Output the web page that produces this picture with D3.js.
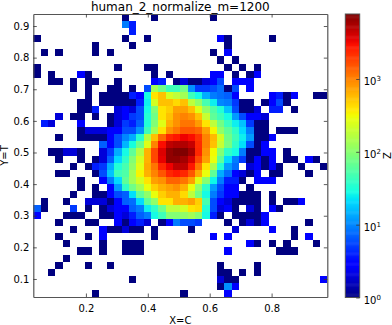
<!DOCTYPE html>
<html>
<head>
<meta charset="utf-8">
<script src="https://d3js.org/d3.v7.min.js"></script>
<style>
  html, body { margin: 0; padding: 0; background: #fff; }
  svg { display: block; }
  text { font-family: "DejaVu Sans", sans-serif; fill: #000; }
</style>
</head>
<body>
<div id="chart"></div>
<script>
var WIDTH = 392, HEIGHT = 325;

var titleText = 'human_2_normalize_m=1200';
var xLabel = 'X=C', yLabel = 'Y=T', zLabel = 'Z';

var xDomain = [0.03, 0.98];
var yDomain = [0.043, 0.938];
var zDomain = [1, 7800];

var xTicks = [0.2, 0.4, 0.6, 0.8];
var yTicks = [0.1, 0.2, 0.3, 0.4, 0.5, 0.6, 0.7, 0.8, 0.9];
var zTicks = [1, 10, 100, 1000];

//counts per bin, first row is the top of the plot (0 = empty bin, stays white)
var zRows = [
  [0,0,0,0,0,0,0,0,0,0, 0,0,1,0,0,0,1,0,0,0, 0,0,0,0,1,0,0,0,0,0, 0,0,0,0,0,0,0,0,0,0],
  [0,0,0,0,0,0,0,0,0,0, 0,0,9,4,0,0,0,0,0,0, 0,0,0,0,0,0,0,0,0,0, 0,0,0,0,0,0,0,0,0,0],
  [0,0,0,0,0,0,0,0,0,0, 0,0,0,4,0,0,0,0,0,0, 0,0,0,0,0,0,0,0,0,0, 0,0,0,0,0,0,0,0,0,0],
  [1,0,0,0,0,0,0,0,0,0, 0,0,1,0,0,1,0,0,0,0, 0,0,0,0,0,3,1,0,0,0, 0,0,1,0,0,0,0,0,0,0],
  [0,0,0,0,0,0,0,0,1,0, 0,0,0,1,0,0,0,0,0,0, 0,0,0,0,0,0,1,0,0,0, 0,0,0,0,0,0,0,0,0,0],
  [0,1,0,1,0,0,0,0,1,0, 1,0,0,0,0,0,0,0,0,0, 0,0,0,0,1,0,3,0,0,0, 0,0,0,0,0,0,0,0,0,0],
  [0,0,0,0,0,0,0,0,0,0, 0,0,0,0,0,0,0,0,0,0, 0,0,0,0,0,1,0,1,0,0, 0,0,0,0,0,0,0,0,0,0],
  [1,0,0,0,0,0,0,0,0,0, 0,1,0,0,0,1,1,0,0,0, 0,0,0,0,0,0,1,0,1,0, 1,0,0,0,0,0,0,0,0,0],
  [1,0,1,0,0,0,3,1,0,0, 0,0,0,0,0,0,1,0,1,0, 0,0,0,0,3,3,0,1,0,1, 3,0,0,0,0,0,0,0,0,0],
  [0,0,1,1,0,1,0,1,1,0, 0,1,0,0,0,0,3,4,0,1, 2,1,1,2,3,6,0,3,3,3, 0,0,0,0,0,0,0,0,0,0],
  [0,0,0,0,0,1,0,1,0,0, 1,1,0,1,0,6,135,78,45,45, 78,11,5,5,6,8,1,6,0,3, 0,0,0,0,0,0,0,0,0,0],
  [0,0,0,0,0,0,0,1,0,1, 1,1,1,4,3,28,400,560,230,180, 135,45,28,14,9,8,7,3,0,0, 0,0,3,4,1,3,0,0,1,1],
  [0,0,0,0,0,0,1,1,0,1, 1,1,1,1,4,25,230,560,560,440, 560,180,110,50,25,10,9,5,1,1, 0,1,3,6,1,0,0,0,0,0],
  [0,0,0,0,0,0,1,1,4,0, 0,2,3,2,6,28,95,400,490,760, 760,560,260,110,55,33,17,6,1,1, 2,0,4,4,0,1,0,0,0,0],
  [0,0,0,2,0,1,1,0,1,0, 1,2,3,5,6,33,78,400,560,880, 1000,880,560,200,65,45,28,12,6,3, 3,2,0,0,0,0,0,0,0,0],
  [0,4,2,0,0,0,3,0,0,0, 1,2,5,4,7,33,95,260,650,880, 1150,1150,800,400,180,80,42,25,17,5, 1,1,0,0,0,0,0,0,0,0],
  [0,0,0,0,0,0,1,2,2,2, 3,3,6,6,11,45,135,400,880,1150, 1550,1550,1350,760,330,110,65,38,21,9, 1,1,0,1,1,1,0,0,0,0],
  [0,0,0,1,0,0,1,1,1,1, 3,6,10,14,35,165,560,1300,2400,2900, 3300,3000,2200,1000,600,230,78,45,25,12, 1,1,3,0,0,0,0,0,0,0],
  [0,0,0,0,0,0,0,0,0,7, 3,6,15,30,75,260,1000,3000,4800,5300, 5300,4500,2300,1000,560,200,85,38,22,6, 1,3,0,0,0,0,0,0,0,0],
  [0,0,1,1,2,2,1,0,0,2, 5,14,28,65,165,650,1800,3800,6800,7800, 7800,5900,2400,880,320,95,38,28,9,1, 1,3,3,0,1,0,0,0,0,0],
  [0,0,0,1,0,0,1,0,1,2, 7,21,38,95,230,650,1800,3500,6800,6800, 5900,4000,1800,760,290,65,21,9,5,1, 3,1,3,0,1,1,0,3,1,0],
  [0,0,0,0,0,1,0,1,4,5, 14,33,50,110,270,700,1150,2400,3300,4800, 4800,2800,1150,400,150,33,12,8,0,2, 3,1,3,1,0,0,1,0,0,1],
  [0,0,0,1,1,0,0,0,1,6, 17,45,55,135,340,650,1000,1550,2400,2800, 2400,1550,700,290,65,14,8,3,2,1, 3,0,1,1,0,0,0,1,0,0],
  [0,0,0,0,0,0,1,0,0,3, 9,21,65,135,230,400,760,880,1350,1350, 1150,760,260,100,27,9,4,4,1,0, 3,3,3,0,0,0,0,0,0,0],
  [0,0,0,0,0,0,1,0,1,0, 3,12,38,78,135,290,490,650,760,880, 650,290,110,38,12,6,3,3,0,1, 0,0,0,0,0,0,0,0,0,0],
  [0,0,0,0,0,1,0,0,1,1, 3,6,7,22,65,110,290,490,650,650, 440,180,80,28,9,5,3,3,1,1, 1,0,1,0,0,0,0,0,0,0],
  [0,1,0,0,1,0,0,2,2,2, 1,3,7,8,21,65,110,400,400,650, 650,760,490,50,6,3,2,1,1,1, 1,0,1,0,1,1,3,0,0,0],
  [7,1,0,0,0,5,0,1,0,1, 2,3,3,7,9,25,38,78,180,180, 230,400,440,33,6,2,3,1,0,2, 1,0,3,1,0,0,0,0,0,0],
  [3,0,0,0,1,1,1,0,0,1, 1,3,2,4,7,9,28,45,95,95, 110,135,100,28,4,1,0,1,1,1, 1,3,0,0,0,0,0,0,0,0],
  [0,0,0,1,0,0,0,1,1,0, 0,3,1,3,4,2,0,1,3,9, 6,6,5,0,0,0,1,0,1,2, 1,3,0,0,0,0,0,1,0,0],
  [0,0,0,0,0,1,0,0,0,3, 1,1,2,1,1,0,1,0,0,0, 0,1,0,0,0,0,0,2,0,0, 0,0,3,0,0,1,0,0,0,0],
  [0,0,0,1,0,0,0,1,0,3, 0,0,0,0,0,0,1,0,0,0, 0,0,0,0,3,0,3,0,0,0, 0,0,0,0,0,1,0,3,0,0],
  [0,0,0,0,1,0,0,0,0,1, 0,0,1,1,1,0,0,0,0,0, 0,0,0,0,0,0,0,0,0,3, 1,0,1,0,1,0,0,0,1,0],
  [0,0,0,0,0,0,1,1,0,1, 0,0,1,1,1,0,0,0,0,0, 0,0,0,0,0,0,3,0,0,0, 0,0,0,1,1,1,0,0,0,0],
  [0,0,0,0,1,0,0,0,0,0, 0,0,0,0,0,0,0,0,0,0, 0,0,0,0,0,0,0,0,0,0, 0,0,0,0,0,0,0,0,0,0],
  [0,0,0,1,0,0,0,1,0,0, 1,0,0,0,0,0,0,0,0,0, 0,0,0,0,0,1,0,0,0,0, 1,0,0,0,0,0,0,0,0,0],
  [0,0,1,0,0,0,0,0,0,0, 0,0,0,0,0,0,0,0,0,0, 0,0,0,0,0,1,1,0,1,0, 1,0,0,0,0,0,0,0,0,0],
  [0,0,0,0,0,0,0,0,0,0, 0,0,0,1,0,0,0,0,0,0, 0,0,0,0,0,2,1,1,0,0, 0,0,0,0,0,0,0,0,0,3],
  [0,0,0,0,0,0,0,0,0,0, 0,0,0,0,0,0,0,0,0,0, 0,0,0,0,0,1,11,3,0,0, 0,0,0,0,0,0,0,0,0,0],
  [0,0,0,0,0,0,0,0,1,0, 0,0,0,0,0,0,0,0,0,0, 1,0,0,0,0,0,3,0,0,0, 0,0,0,0,0,0,0,0,0,0]
];

var plot = {left: 33.3, right: 327.3, top: 14, bottom: 297};
var bar = {left: 345.3, right: 359.7, top: 14, bottom: 297.5};

var svg = d3.select('#chart')
    .append('svg')
    .attr('width', WIDTH)
    .attr('height', HEIGHT);

var x = d3.scaleLinear().domain(xDomain).range([plot.left, plot.right]);
var y = d3.scaleLinear().domain(yDomain).range([plot.bottom, plot.top]);

//bin index -> data value
var nCols = zRows[0].length, nRows = zRows.length;
var colEdge = d3.scaleLinear().domain([0, nCols]).range(xDomain);
var rowEdge = d3.scaleLinear().domain([0, nRows]).range([yDomain[1], yDomain[0]]);

//matplotlib's jet, channel by channel
var jetR = d3.scaleLinear().domain([0, .35, .66, .89, 1]).range([0, 0, 1, 1, .5]);
var jetG = d3.scaleLinear().domain([0, .125, .375, .64, .91, 1]).range([0, 0, 1, 1, 0, 0]);
var jetB = d3.scaleLinear().domain([0, .11, .34, .65, 1]).range([.5, 1, 1, 0, 0]);
function jet(t) {
    return d3.rgb(jetR(t) * 255, jetG(t) * 255, jetB(t) * 255).formatHex();
}
var zNorm = d3.scaleLog().domain(zDomain).range([0, 1]).clamp(true);

//heatmap cells
var cells = [];
zRows.forEach(function(row, r) {
    row.forEach(function(z, c) {
        if(z > 0) cells.push({r: r, c: c, z: z});
    });
});

var soft = svg.append('defs').append('filter')
    .attr('id', 'soft')
    .attr('x', '-2%').attr('y', '-2%').attr('width', '104%').attr('height', '104%');
soft.append('feGaussianBlur').attr('stdDeviation', 0.4);

svg.append('g')
    .attr('filter', 'url(#soft)')
    .selectAll('rect')
    .data(cells)
    .enter()
    .append('rect')
    .attr('x', function(d) { return x(colEdge(d.c)); })
    .attr('y', function(d) { return y(rowEdge(d.r)); })
    .attr('width', function(d) { return x(colEdge(d.c + 1)) - x(colEdge(d.c)); })
    .attr('height', function(d) { return y(rowEdge(d.r + 1)) - y(rowEdge(d.r)); })
    .attr('fill', function(d) { return jet(zNorm(d.z)); })
    .attr('shape-rendering', 'crispEdges');

//inward ticks on all four sides, labels only on left and bottom
function styleAxis(g) {
    g.selectAll('.domain').attr('stroke', '#555').attr('stroke-width', 1.2);
    g.selectAll('.tick line').attr('stroke', '#333').attr('stroke-width', 0.8);
    g.selectAll('.tick text').style('font-size', '10px').attr('fill', '#000');
}

svg.append('g')
    .attr('transform', 'translate(0,' + plot.bottom + ')')
    .call(d3.axisBottom(x).tickValues(xTicks).tickSizeInner(-3.5).tickSizeOuter(0).tickPadding(8).tickFormat(d3.format('.1f')))
    .call(styleAxis);
svg.append('g')
    .attr('transform', 'translate(0,' + plot.top + ')')
    .call(d3.axisTop(x).tickValues(xTicks).tickSizeInner(-3.5).tickSizeOuter(0).tickFormat(''))
    .call(styleAxis);
svg.append('g')
    .attr('transform', 'translate(' + plot.left + ',0)')
    .call(d3.axisLeft(y).tickValues(yTicks).tickSizeInner(-3.5).tickSizeOuter(0).tickPadding(4).tickFormat(d3.format('.1f')))
    .call(styleAxis);
svg.append('g')
    .attr('transform', 'translate(' + plot.right + ',0)')
    .call(d3.axisRight(y).tickValues(yTicks).tickSizeInner(-3.5).tickSizeOuter(0).tickFormat(''))
    .call(styleAxis);

//title and axis labels
svg.append('text')
    .attr('x', (plot.left + plot.right) / 2)
    .attr('y', 10.5)
    .attr('text-anchor', 'middle')
    .style('font-size', '12px')
    .text(titleText);
svg.append('text')
    .attr('x', (plot.left + plot.right) / 2)
    .attr('y', 324)
    .attr('text-anchor', 'middle')
    .style('font-size', '10px')
    .text(xLabel);
svg.append('text')
    .attr('transform', 'translate(8,' + (plot.top + plot.bottom) / 2 + ') rotate(-90)')
    .attr('text-anchor', 'middle')
    .style('font-size', '10px')
    .text(yLabel);

//colorbar, drawn as thin strips from the same log scale
var zBar = d3.scaleLog().domain(zDomain).range([bar.bottom, bar.top]);
var strips = d3.range(0, 256).map(function(i) { return i / 256; });
svg.append('g')
    .selectAll('rect')
    .data(strips)
    .enter()
    .append('rect')
    .attr('x', bar.left)
    .attr('width', bar.right - bar.left)
    .attr('y', function(t) { return zBar(zNorm.invert(t + 1 / 256)); })
    .attr('height', function(t) { return zBar(zNorm.invert(t)) - zBar(zNorm.invert(t + 1 / 256)) + 0.5; })
    .attr('fill', function(t) { return jet(t + 1 / 512); });

svg.append('rect')
    .attr('x', bar.left)
    .attr('y', bar.top)
    .attr('width', bar.right - bar.left)
    .attr('height', bar.bottom - bar.top)
    .attr('fill', 'none')
    .attr('stroke', '#555')
    .attr('stroke-width', 1);

var barAxis = svg.append('g')
    .attr('transform', 'translate(' + bar.right + ',0)')
    .call(d3.axisRight(zBar).tickValues(zTicks).tickSizeInner(-3.5).tickSizeOuter(0).tickPadding(5).tickFormat(''))
    .call(styleAxis);
barAxis.select('.domain').remove();

var barText = barAxis.selectAll('.tick text')
    .attr('x', 4)
    .attr('dy', '0.55em')
    .text('10');
barText.data(zTicks)
    .append('tspan')
    .attr('dy', '-0.55em')
    .style('font-size', '7px')
    .text(function(d) { return Math.round(Math.log10(d)); });

svg.append('text')
    .attr('transform', 'translate(391,' + (plot.top + plot.bottom) / 2 + ') rotate(-90)')
    .attr('text-anchor', 'middle')
    .style('font-size', '10px')
    .text(zLabel);
</script>
</body>
</html>
